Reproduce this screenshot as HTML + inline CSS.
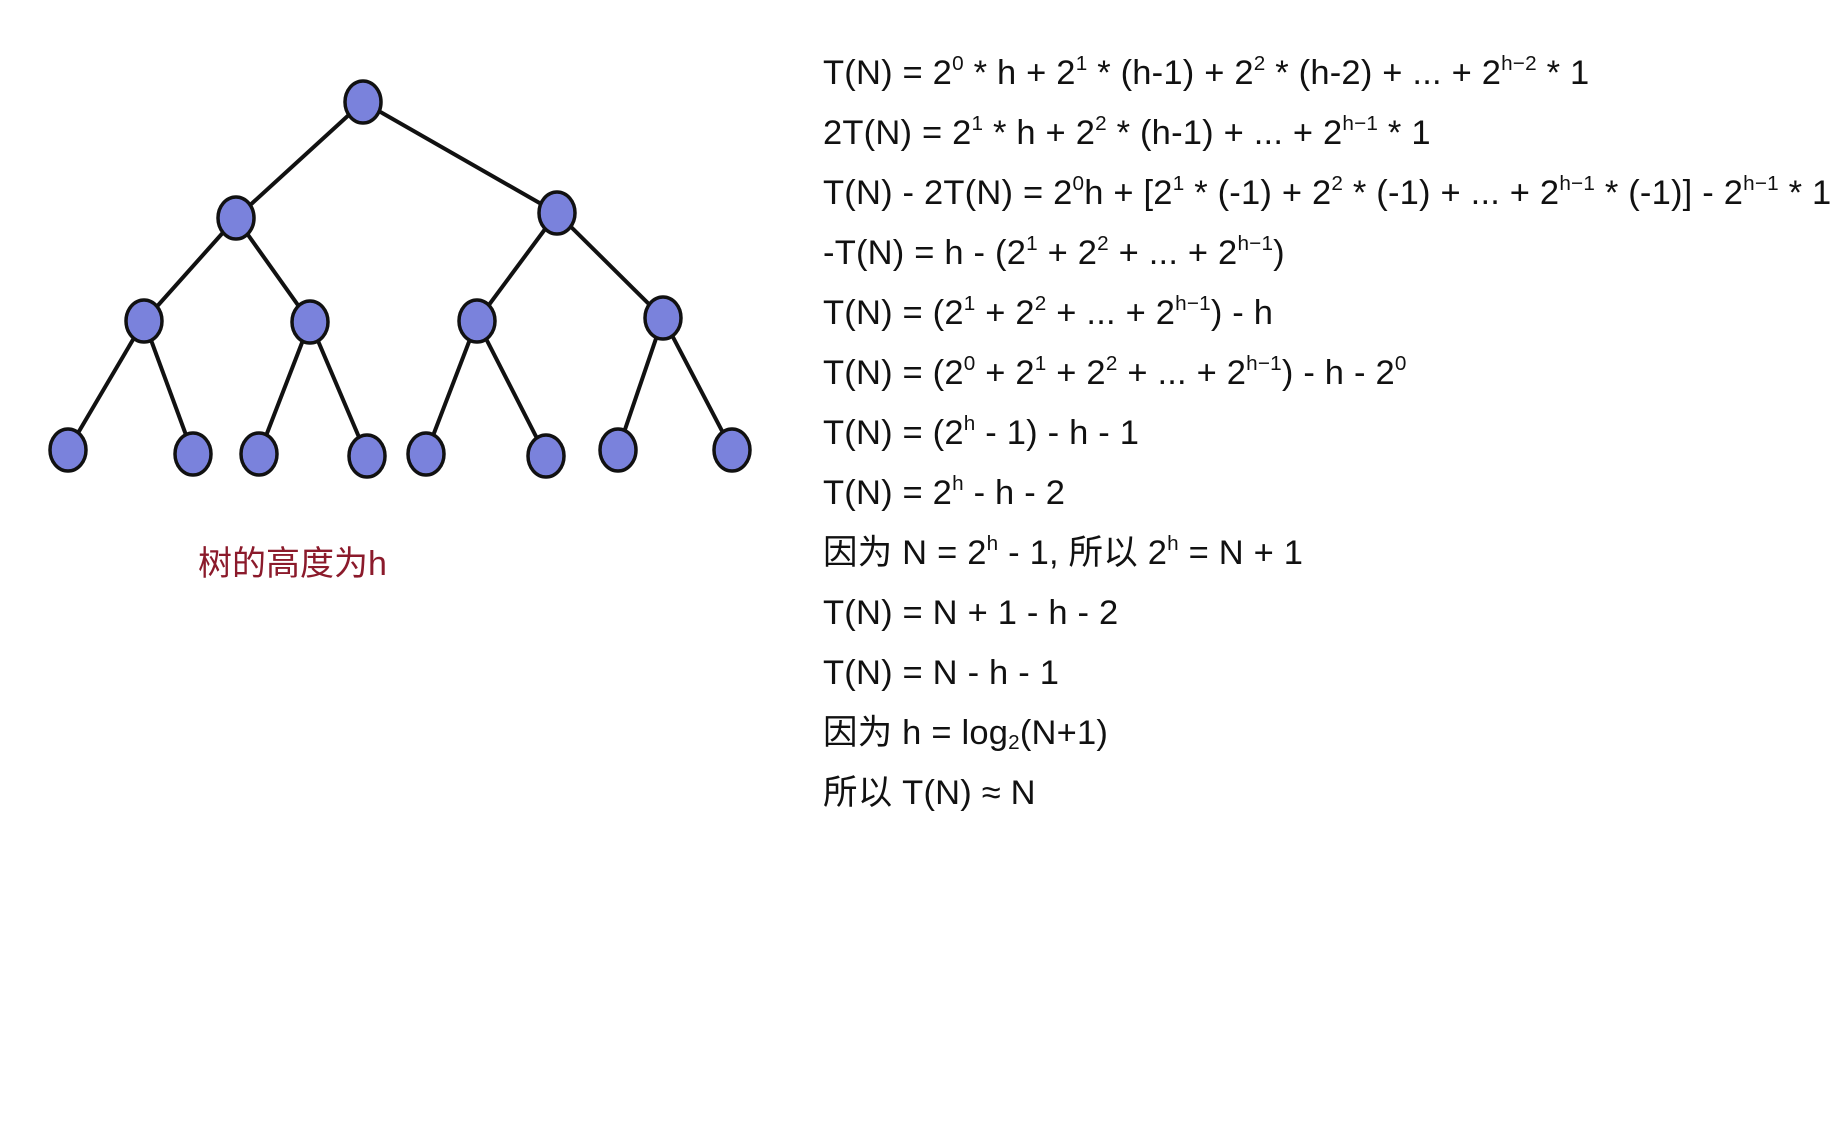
<!DOCTYPE html>
<html><head><meta charset="utf-8"><style>
body{margin:0;width:1835px;height:1135px;background:#fff;position:relative;overflow:hidden;font-family:"Liberation Sans","Noto Sans CJK SC",sans-serif}
.l{position:absolute;left:823px;font-size:34.5px;line-height:40px;color:#111;white-space:nowrap;letter-spacing:0.2px}
sup{font-size:60%;vertical-align:0;position:relative;top:-0.7em}
sub{font-size:60%;vertical-align:0;position:relative;top:0.25em}
.lab{position:absolute;left:198px;top:536px;font-size:34px;color:#8b1a2b;font-family:"Liberation Sans","Noto Sans CJK SC",sans-serif}
</style></head><body>
<svg width="800" height="600" style="position:absolute;left:0;top:0" stroke="#111" stroke-width="4">
<g>
<line x1="363" y1="102" x2="236" y2="218"/><line x1="363" y1="102" x2="557" y2="213"/>
<line x1="236" y1="218" x2="144" y2="321"/><line x1="236" y1="218" x2="310" y2="322"/>
<line x1="557" y1="213" x2="477" y2="321"/><line x1="557" y1="213" x2="663" y2="318"/>
<line x1="144" y1="321" x2="68" y2="450"/><line x1="144" y1="321" x2="193" y2="454"/>
<line x1="310" y1="322" x2="259" y2="454"/><line x1="310" y1="322" x2="367" y2="456"/>
<line x1="477" y1="321" x2="426" y2="454"/><line x1="477" y1="321" x2="546" y2="456"/>
<line x1="663" y1="318" x2="618" y2="450"/><line x1="663" y1="318" x2="732" y2="450"/>
</g>
<g fill="#7a82dc" stroke-width="3.5">
<ellipse cx="363" cy="102" rx="18" ry="21"/>
<ellipse cx="236" cy="218" rx="18" ry="21"/><ellipse cx="557" cy="213" rx="18" ry="21"/>
<ellipse cx="144" cy="321" rx="18" ry="21"/><ellipse cx="310" cy="322" rx="18" ry="21"/>
<ellipse cx="477" cy="321" rx="18" ry="21"/><ellipse cx="663" cy="318" rx="18" ry="21"/>
<ellipse cx="68" cy="450" rx="18" ry="21"/><ellipse cx="193" cy="454" rx="18" ry="21"/>
<ellipse cx="259" cy="454" rx="18" ry="21"/><ellipse cx="367" cy="456" rx="18" ry="21"/>
<ellipse cx="426" cy="454" rx="18" ry="21"/><ellipse cx="546" cy="456" rx="18" ry="21"/>
<ellipse cx="618" cy="450" rx="18" ry="21"/><ellipse cx="732" cy="450" rx="18" ry="21"/>
</g></svg>
<div class="lab">树的高度为h</div>
<div class="l" style="top:53px">T(N) = 2<sup>0</sup> * h + 2<sup>1</sup> * (h-1) + 2<sup>2</sup> * (h-2) + ... + 2<sup>h−2</sup> * 1</div>
<div class="l" style="top:113px">2T(N) = 2<sup>1</sup> * h + 2<sup>2</sup> * (h-1) + ... + 2<sup>h−1</sup> * 1</div>
<div class="l" style="top:173px">T(N) - 2T(N) = 2<sup>0</sup>h + [2<sup>1</sup> * (-1) + 2<sup>2</sup> * (-1) + ... + 2<sup>h−1</sup> * (-1)] - 2<sup>h−1</sup> * 1</div>
<div class="l" style="top:233px">-T(N) = h - (2<sup>1</sup> + 2<sup>2</sup> + ... + 2<sup>h−1</sup>)</div>
<div class="l" style="top:293px">T(N) = (2<sup>1</sup> + 2<sup>2</sup> + ... + 2<sup>h−1</sup>) - h</div>
<div class="l" style="top:353px">T(N) = (2<sup>0</sup> + 2<sup>1</sup> + 2<sup>2</sup> + ... + 2<sup>h−1</sup>) - h - 2<sup>0</sup></div>
<div class="l" style="top:413px">T(N) = (2<sup>h</sup> - 1) - h - 1</div>
<div class="l" style="top:473px">T(N) = 2<sup>h</sup> - h - 2</div>
<div class="l" style="top:533px">因为 N = 2<sup>h</sup> - 1, 所以 2<sup>h</sup> = N + 1</div>
<div class="l" style="top:593px">T(N) = N + 1 - h - 2</div>
<div class="l" style="top:653px">T(N) = N - h - 1</div>
<div class="l" style="top:713px">因为 h = log<sub>2</sub>(N+1)</div>
<div class="l" style="top:773px">所以 T(N) ≈ N</div>
</body></html>
